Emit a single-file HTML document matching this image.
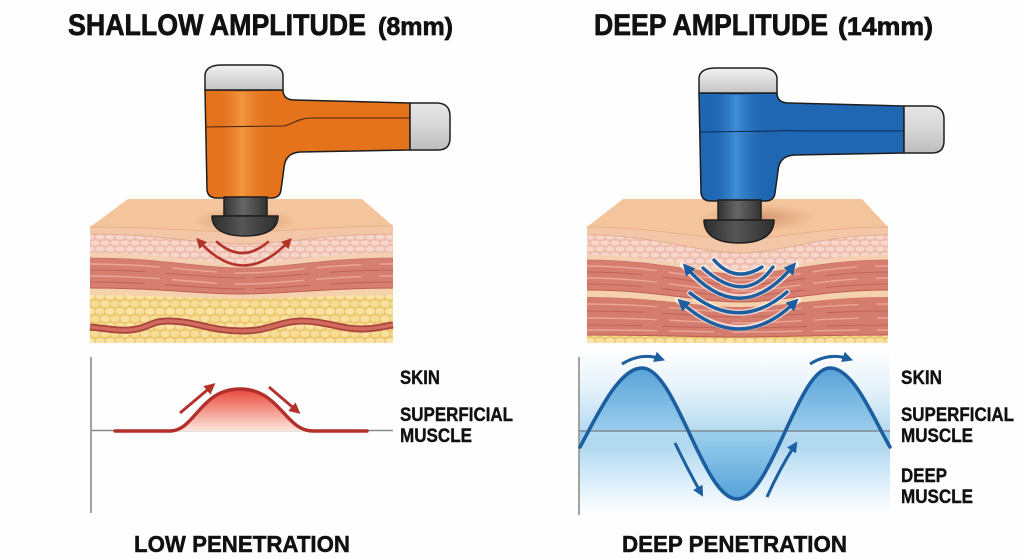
<!DOCTYPE html>
<html><head><meta charset="utf-8">
<style>
html,body{margin:0;padding:0;background:#fff;}
svg{display:block;}
text{font-family:"Liberation Sans",Arial,sans-serif;font-weight:bold;fill:#111;}
.t{stroke:#111;stroke-width:0.7;}
</style></head>
<body>
<svg width="1024" height="559" viewBox="0 0 1024 559" xmlns="http://www.w3.org/2000/svg">
<defs>
  <pattern id="pinkC" width="20" height="12" patternUnits="userSpaceOnUse">
    <rect width="20" height="12" fill="#edbcad"/>
    <ellipse cx="5" cy="3" rx="4.4" ry="2.5" fill="#f7d7cb"/>
    <ellipse cx="15" cy="3" rx="4.4" ry="2.5" fill="#f7d7cb"/>
    <ellipse cx="0" cy="9" rx="4.4" ry="2.5" fill="#f7d7cb"/>
    <ellipse cx="10" cy="9" rx="4.4" ry="2.5" fill="#f7d7cb"/>
    <ellipse cx="20" cy="9" rx="4.4" ry="2.5" fill="#f7d7cb"/>
  </pattern>
  <pattern id="yelC" width="20" height="15" patternUnits="userSpaceOnUse">
    <rect width="20" height="15" fill="#ecc871"/>
    <ellipse cx="5" cy="3.75" rx="4.5" ry="3.3" fill="#f9e0a0"/>
    <ellipse cx="15" cy="3.75" rx="4.5" ry="3.3" fill="#f7dc96"/>
    <ellipse cx="0" cy="11.25" rx="4.5" ry="3.3" fill="#f9e0a0"/>
    <ellipse cx="10" cy="11.25" rx="4.5" ry="3.3" fill="#fae4a8"/>
    <ellipse cx="20" cy="11.25" rx="4.5" ry="3.3" fill="#f9e0a0"/>
  </pattern>
  <linearGradient id="capG" x1="0" y1="0" x2="0" y2="1">
    <stop offset="0" stop-color="#f2f2f2"/><stop offset="1" stop-color="#c4c4c4"/>
  </linearGradient>
  <linearGradient id="hcapG" x1="0" y1="0" x2="0" y2="1">
    <stop offset="0" stop-color="#e6e6e6"/><stop offset="0.5" stop-color="#d6d6d6"/><stop offset="1" stop-color="#bdbdbd"/>
  </linearGradient>
  <linearGradient id="oBody" x1="0" y1="0" x2="1" y2="0">
    <stop offset="0" stop-color="#d8661a" stop-opacity="0"/>
    <stop offset="0.45" stop-color="#f7a24a" stop-opacity="0.75"/>
    <stop offset="1" stop-color="#d8661a" stop-opacity="0"/>
  </linearGradient>
  <linearGradient id="bBody" x1="0" y1="0" x2="1" y2="0">
    <stop offset="0" stop-color="#1a5aa5" stop-opacity="0"/>
    <stop offset="0.45" stop-color="#4fa0e4" stop-opacity="0.7"/>
    <stop offset="1" stop-color="#1a5aa5" stop-opacity="0"/>
  </linearGradient>
  <linearGradient id="neckG" x1="0" y1="0" x2="1" y2="0">
    <stop offset="0" stop-color="#333"/><stop offset="0.45" stop-color="#666"/><stop offset="1" stop-color="#333"/>
  </linearGradient>
  <linearGradient id="domeG" x1="0" y1="0" x2="1" y2="0">
    <stop offset="0" stop-color="#2e2e2e"/><stop offset="0.45" stop-color="#555"/><stop offset="1" stop-color="#2e2e2e"/>
  </linearGradient>
  <radialGradient id="shad">
    <stop offset="0" stop-color="#c98760" stop-opacity="0.75"/>
    <stop offset="1" stop-color="#c98760" stop-opacity="0"/>
  </radialGradient>
  <linearGradient id="redFill" x1="0" y1="389" x2="0" y2="431" gradientUnits="userSpaceOnUse">
    <stop offset="0" stop-color="#e8473a"/><stop offset="1" stop-color="#fde6de"/>
  </linearGradient>
  <linearGradient id="bandG" x1="0" y1="350" x2="0" y2="515" gradientUnits="userSpaceOnUse">
    <stop offset="0" stop-color="#ffffff"/>
    <stop offset="0.25" stop-color="#e3f1fa"/>
    <stop offset="0.5" stop-color="#b4daf0"/>
    <stop offset="0.58" stop-color="#b0d8ef"/>
    <stop offset="0.8" stop-color="#dceefa"/>
    <stop offset="1" stop-color="#ffffff"/>
  </linearGradient>
  <linearGradient id="waveG" x1="0" y1="368" x2="0" y2="499" gradientUnits="userSpaceOnUse">
    <stop offset="0" stop-color="#3d93d2"/>
    <stop offset="0.48" stop-color="#95cbeb"/>
    <stop offset="0.52" stop-color="#95cbeb"/>
    <stop offset="1" stop-color="#3a94d3"/>
  </linearGradient>
  <marker id="arR" viewBox="0 0 10 10" refX="6" refY="5" markerWidth="4" markerHeight="4" orient="auto-start-reverse">
    <path d="M0,0 L10,5 L0,10 z" fill="#b3322a"/>
  </marker>
  <marker id="arB" viewBox="0 0 10 10" refX="6" refY="5" markerWidth="3.6" markerHeight="3.6" orient="auto-start-reverse">
    <path d="M0,0 L10,5 L0,10 z" fill="#1d5e9f"/>
  </marker>
</defs>

<rect width="1024" height="559" fill="#fefefe"/>

<!-- TITLES -->
<text class="t" x="68" y="35" font-size="30" textLength="298" lengthAdjust="spacingAndGlyphs">SHALLOW AMPLITUDE</text>
<text class="t" x="378" y="35" font-size="25" textLength="75" lengthAdjust="spacingAndGlyphs">(8mm)</text>
<text class="t" x="594" y="35" font-size="30" textLength="234" lengthAdjust="spacingAndGlyphs">DEEP AMPLITUDE</text>
<text class="t" x="838" y="35" font-size="25" textLength="95" lengthAdjust="spacingAndGlyphs">(14mm)</text>

<!-- LEFT TISSUE BLOCK -->
<rect x="90" y="226" width="303" height="117" fill="url(#yelC)"/>
<path d="M90,327 C110,329 120,331 130,330 C150,328 150,321 168,321 C195,321 210,331 242,331 C270,331 280,321 302,321 C325,321 340,329 362,329 C375,329 385,326 393,325" fill="none" stroke="#a8443c" stroke-width="7"/>
<path d="M90,327 C110,329 120,331 130,330 C150,328 150,321 168,321 C195,321 210,331 242,331 C270,331 280,321 302,321 C325,321 340,329 362,329 C375,329 385,326 393,325" fill="none" stroke="#d26b5e" stroke-width="3.5"/>
<path d="M90,226 L90,295 C160,295 200,299 242,299 C285,299 325,295 393,295 L393,226 Z" fill="#f6d2ac"/>
<path d="M90,226 L90,288 C160,288 200,294 242,294 C285,294 325,288 393,288 L393,226 Z" fill="#d67f70"/>
<path d="M90,288 C160,288 200,294 242,294 C285,294 325,288 393,288" fill="none" stroke="#bf5e55" stroke-width="1"/>
<g fill="none" stroke="#eaa698" stroke-width="1.4" stroke-dasharray="70 12 45 18">
<path d="M90,264 C160,264 200,273 242,273 C285,273 325,264 393,264"/>
<path d="M90,276 C160,276 200,284 242,284 C285,284 325,276 393,276"/>
</g>
<g fill="none" stroke="#c1635a" stroke-width="1.1" stroke-dasharray="55 20 80 10">
<path d="M90,270 C160,270 200,278 242,278 C285,278 325,270 393,270"/>
<path d="M90,282 C160,282 200,289 242,289 C285,289 325,282 393,282"/>
</g>
<path d="M90,226 L90,258 C160,258 200,268 242,268 C285,268 325,258 393,258 L393,226 Z" fill="#f5d0b0"/>
<path d="M90,258 C160,258 200,268 242,268 C285,268 325,258 393,258" fill="none" stroke="#c8716a" stroke-width="0.8"/>
<path d="M90,226 L90,253 C160,253 200,263 242,263 C285,263 325,253 393,253 L393,226 Z" fill="url(#pinkC)"/>
<path d="M90,226 L90,234 C160,234 200,244 242,244 C285,244 325,234 393,234 L393,226 Z" fill="#f4c6a8"/>
<path d="M90,234 C160,234 200,244 242,244 C285,244 325,234 393,234" fill="none" stroke="#e0a88c" stroke-width="0.8"/>
<path d="M128,199 L362,199 L393,226 C325,226 285,232 242,232 C200,232 160,227 90,227 Z" fill="#f4c49c"/>
<path d="M90,227 C160,227 200,232 242,232 C285,232 325,226 393,226" fill="none" stroke="#e7b08a" stroke-width="1"/>
<ellipse cx="245" cy="221" rx="52" ry="13" fill="url(#shad)"/>

<!-- red arrows in left block -->
<path d="M217,242 Q242,264 268,242" fill="none" stroke="#b3322a" stroke-width="2.6" stroke-linecap="round"/>
<path d="M199,241 Q243,290 289,241" fill="none" stroke="#b3322a" stroke-width="2.6" marker-start="url(#arR)" marker-end="url(#arR)"/>

<!-- ORANGE GUN -->
<g stroke="#1e1e1e" stroke-width="1.5" stroke-linejoin="round">
  <path d="M205,90 L283,90 Q283,100 295,100 L410,103 L410,150 L300,152 Q285,153 284,168 L281,190 Q280,198 271,198 L217,198 Q208,198 207,190 Z" fill="#e5731c"/>
  <path d="M212,92 L278,92 L276,196 L215,196 Z" fill="url(#oBody)" stroke="none"/>
  <path d="M205,127 L283,126 C292,125 296,119 310,118 L410,118" fill="none" stroke="#4a2610" stroke-width="1.1"/>
  <path d="M205,90 L205,75 Q206,65 222,65 L266,65 Q282,65 283,75 L283,90 Z" fill="url(#capG)"/>
  <path d="M410,103 L438,103 Q450,104 450,116 L450,138 Q450,150 438,150 L410,150 Z" fill="url(#hcapG)"/>
  <rect x="224" y="197" width="43" height="19" fill="url(#neckG)"/>
  <path d="M212,216 L278,216 C278,230 265,236 245,236 C225,236 212,230 212,216 Z" fill="url(#domeG)"/>
</g>

<!-- RIGHT TISSUE BLOCK -->
<rect x="587" y="226" width="301" height="117" fill="url(#yelC)"/>
<path d="M587,226 L587,335 C657,335 698,337 740,337 C783,337 820,335 888,335 L888,226 Z" fill="#d47c6d"/>
<path d="M587,335 C657,335 698,337 740,337 C783,337 820,335 888,335" fill="none" stroke="#bf5e55" stroke-width="1"/>
<g fill="none" stroke="#eaa698" stroke-width="1.4" stroke-dasharray="70 12 45 18">
<path d="M587,304 C657,304 698,312 740,312 C783,312 820,304 888,304"/>
<path d="M587,318 C657,318 698,323 740,323 C783,323 820,318 888,318"/>
<path d="M587,330 C657,330 698,332 740,332 C783,332 820,330 888,330"/>
</g>
<g fill="none" stroke="#c1635a" stroke-width="1.1" stroke-dasharray="55 20 80 10">
<path d="M587,311 C657,311 698,317 740,317 C783,317 820,311 888,311"/>
<path d="M587,325 C657,325 698,328 740,328 C783,328 820,325 888,325"/>
</g>
<path d="M587,226 L587,297 C657,297 698,307 740,307 C783,307 820,297 888,297 L888,226 Z" fill="#f6d2ac"/>
<path d="M587,226 L587,290 C657,290 698,302 740,302 C783,302 820,290 888,290 L888,226 Z" fill="#d67f70"/>
<path d="M587,290 C657,290 698,302 740,302 C783,302 820,290 888,290" fill="none" stroke="#bf5e55" stroke-width="1"/>
<g fill="none" stroke="#eaa698" stroke-width="1.4" stroke-dasharray="70 12 45 18">
<path d="M587,266 C657,266 698,280 740,280 C783,280 820,266 888,266"/>
<path d="M587,278 C657,278 698,291 740,291 C783,291 820,278 888,278"/>
</g>
<g fill="none" stroke="#c1635a" stroke-width="1.1" stroke-dasharray="55 20 80 10">
<path d="M587,272 C657,272 698,285 740,285 C783,285 820,272 888,272"/>
<path d="M587,284 C657,284 698,296 740,296 C783,296 820,284 888,284"/>
</g>
<path d="M587,226 L587,260 C657,260 698,274 740,274 C783,274 820,260 888,260 L888,226 Z" fill="#f5d0b0"/>
<path d="M587,260 C657,260 698,274 740,274 C783,274 820,260 888,260" fill="none" stroke="#c8716a" stroke-width="0.8"/>
<path d="M587,226 L587,255 C657,255 698,270 740,270 C783,270 820,255 888,255 L888,226 Z" fill="url(#pinkC)"/>
<path d="M587,226 L587,235 C657,235 698,253 740,253 C783,253 820,235 888,235 L888,226 Z" fill="#f4c6a8"/>
<path d="M587,235 C657,235 698,253 740,253 C783,253 820,235 888,235" fill="none" stroke="#e0a88c" stroke-width="0.8"/>
<path d="M623,199 L862,199 L888,227 C820,227 783,239 740,239 C698,239 657,227 587,227 Z" fill="#f4c49c"/>
<path d="M587,227 C657,227 698,239 740,239 C783,239 820,227 888,227" fill="none" stroke="#e7b08a" stroke-width="1"/>
<ellipse cx="758" cy="218" rx="58" ry="14" fill="url(#shad)"/>

<!-- blue arcs -->
<g fill="none" stroke-linecap="round">
  <g stroke="#ffffff" stroke-width="6" opacity="0.7">
    <path d="M714,260 Q735,284 762,267"/>
    <path d="M703,268 Q745,306 773,267"/>
    <path d="M683,265 Q740,330 796,264"/>
    <path d="M690,293 Q740,333 787,292"/>
    <path d="M678,300 Q740,356 798,300"/>
  </g>
  <g stroke="#1d5e9f" stroke-width="3.4">
    <path d="M714,260 Q735,284 762,267"/>
    <path d="M703,268 Q745,306 773,267"/>
    <path d="M690,293 Q740,333 787,292"/>
  </g>
  <g stroke="#1d5e9f" stroke-width="3.4" stroke-linecap="butt">
    <path d="M686,267 Q740,330 793,266" marker-start="url(#arB)" marker-end="url(#arB)"/>
    <path d="M681,302 Q740,356 795,302" marker-start="url(#arB)" marker-end="url(#arB)"/>
  </g>
</g>

<!-- BLUE GUN -->
<g transform="translate(494,3)" stroke="#1e1e1e" stroke-width="1.5" stroke-linejoin="round">
  <path d="M205,90 L283,90 Q283,100 295,100 L410,103 L410,150 L300,152 Q285,153 284,168 L281,190 Q280,198 271,198 L217,198 Q208,198 207,190 Z" fill="#1f66b3"/>
  <path d="M212,92 L278,92 L276,196 L215,196 Z" fill="url(#bBody)" stroke="none"/>
  <path d="M205,129 L283,128 C292,127 296,128 310,128 L410,128" fill="none" stroke="#0e2c55" stroke-width="1.1"/>
  <path d="M205,90 L205,75 Q206,65 222,65 L266,65 Q282,65 283,75 L283,90 Z" fill="url(#capG)"/>
  <path d="M410,103 L438,103 Q450,104 450,116 L450,138 Q450,150 438,150 L410,150 Z" fill="url(#hcapG)"/>
  <rect x="224" y="197" width="43" height="20" fill="url(#neckG)"/>
  <path d="M210,217 L280,217 C280,233 266,240 245,240 C224,240 210,233 210,217 Z" fill="url(#domeG)"/>
</g>

<!-- LEFT GRAPH -->
<line x1="91" y1="357" x2="91" y2="513" stroke="#8a8a8a" stroke-width="1.6"/>
<line x1="91" y1="430.5" x2="393" y2="430.5" stroke="#8a8a8a" stroke-width="1.6"/>
<path d="M170,431 C195,431 200,389 240,389 C280,389 285,431 313,431 Z" fill="url(#redFill)"/>
<path d="M115,431 L170,431 C195,431 200,389 240,389 C280,389 285,431 313,431 L367,431" fill="none" stroke="#b3302a" stroke-width="3.4" stroke-linecap="round"/>
<path d="M180,413 L212,386" fill="none" stroke="#b3302a" stroke-width="2.8" marker-end="url(#arR)"/>
<path d="M269,387 L297,411" fill="none" stroke="#b3302a" stroke-width="2.8" marker-end="url(#arR)"/>

<text class="t" x="400" y="384" font-size="19.5" textLength="40" lengthAdjust="spacingAndGlyphs" style="stroke-width:0.4">SKIN</text>
<text class="t" x="400" y="421" font-size="19.5" textLength="113" lengthAdjust="spacingAndGlyphs" style="stroke-width:0.4">SUPERFICIAL</text>
<text class="t" x="400" y="442" font-size="19.5" textLength="72" lengthAdjust="spacingAndGlyphs" style="stroke-width:0.4">MUSCLE</text>

<!-- RIGHT GRAPH -->
<rect x="580" y="350" width="310" height="165" fill="url(#bandG)"/>
<path d="M580,447 C595,420 618,368 642,368 C676,368 703,499 737,499 C771,499 798,368 830,368 C854,368 874,420 890,447 L890,431 L580,431 Z" fill="url(#waveG)" opacity="0.85"/>
<line x1="579" y1="357" x2="579" y2="515" stroke="#8a8a8a" stroke-width="1.6"/>
<line x1="579" y1="431" x2="890" y2="431" stroke="#7f8a92" stroke-width="1.6"/>
<path d="M580,447 C595,420 618,368 642,368 C676,368 703,499 737,499 C771,499 798,368 830,368 C854,368 874,420 890,447" fill="none" stroke="#1d5e9f" stroke-width="3.6" stroke-linecap="round"/>
<g fill="none" stroke="#1d5e9f" stroke-width="3">
  <path d="M622,364 Q641,352 661,359" marker-end="url(#arB)"/>
  <path d="M810,364 Q829,352 849,359" marker-end="url(#arB)"/>
  <path d="M675,443 Q688,470 701,493" marker-end="url(#arB)"/>
  <path d="M767,497 Q780,468 795,445" marker-end="url(#arB)"/>
</g>

<text class="t" x="901" y="384" font-size="19.5" textLength="41" lengthAdjust="spacingAndGlyphs" style="stroke-width:0.4">SKIN</text>
<text class="t" x="901" y="421" font-size="19.5" textLength="113" lengthAdjust="spacingAndGlyphs" style="stroke-width:0.4">SUPERFICIAL</text>
<text class="t" x="901" y="442" font-size="19.5" textLength="72" lengthAdjust="spacingAndGlyphs" style="stroke-width:0.4">MUSCLE</text>
<text class="t" x="901" y="482" font-size="19.5" textLength="46" lengthAdjust="spacingAndGlyphs" style="stroke-width:0.4">DEEP</text>
<text class="t" x="901" y="503" font-size="19.5" textLength="72" lengthAdjust="spacingAndGlyphs" style="stroke-width:0.4">MUSCLE</text>

<!-- BOTTOM LABELS -->
<text class="t" x="134" y="552" font-size="23.5" textLength="216" lengthAdjust="spacingAndGlyphs" style="stroke-width:0.5">LOW PENETRATION</text>
<text class="t" x="622" y="552" font-size="23.5" textLength="225" lengthAdjust="spacingAndGlyphs" style="stroke-width:0.5">DEEP PENETRATION</text>
</svg>
</body></html>
